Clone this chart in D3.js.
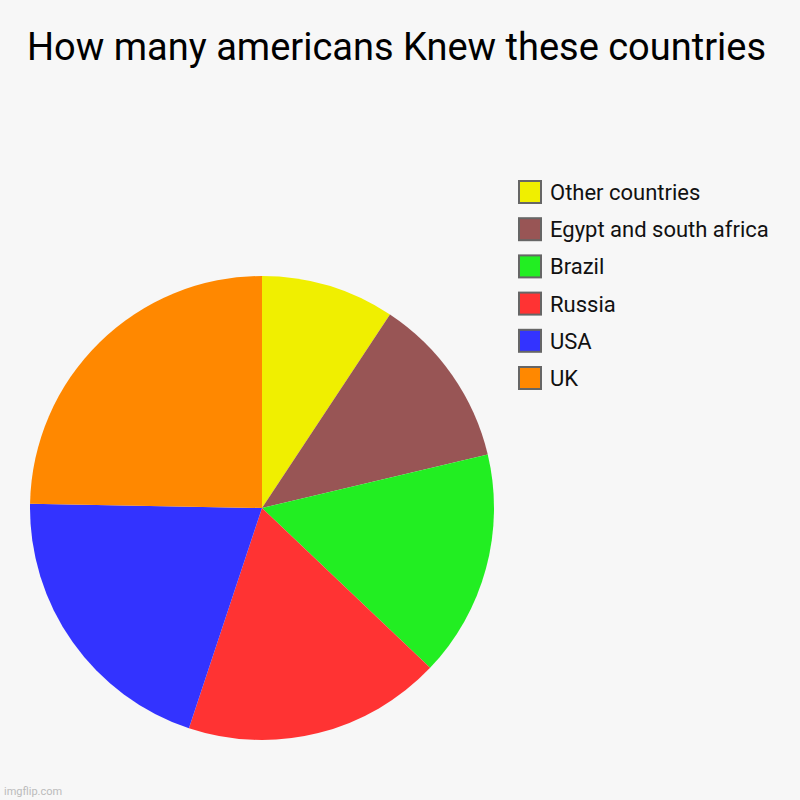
<!DOCTYPE html>
<html>
<head>
<meta charset="utf-8">
<script src="https://cdn.jsdelivr.net/npm/d3@7"></script>
<style>
  html, body { margin: 0; padding: 0; background: #f7f7f7; }
  svg { display: block; }
</style>
</head>
<body>
<div id="chart"></div>
<script>
// 数据
const labels = ["Other countries", "Egypt and south africa", "Brazil", "Russia", "USA", "UK"];
const values = [9.3, 12, 15.8, 18, 20.2, 24.7];
const colors = ["#f0ef00", "#985555", "#22ee22", "#ff3333", "#3333ff", "#ff8800"];

const width = 800,
  height = 800;

const svg = d3
  .select("#chart")
  .append("svg")
  .attr("width", width)
  .attr("height", height)
  .style("font-family", "Roboto, sans-serif");

svg.append("rect").attr("width", width).attr("height", height).attr("fill", "#f7f7f7");

// 标题
svg
  .append("text")
  .attr("x", 27)
  .attr("y", 60)
  .style("font-size", "38px")
  .style("fill", "#000")
  .text("How many americans Knew these countries");

// 饼图
const cx = 262,
  cy = 508,
  radius = 232;

const pie = d3.pie().sort(null).value((d) => d);
const arc = d3.arc().innerRadius(0).outerRadius(radius);

const g = svg.append("g").attr("transform", `translate(${cx},${cy})`);
g.selectAll("path")
  .data(pie(values))
  .enter()
  .append("path")
  .attr("d", arc)
  .attr("fill", (d, i) => colors[i]);

// 图例
const legend = svg.append("g").attr("transform", "translate(519,181)");
const item = legend
  .selectAll("g")
  .data(labels)
  .enter()
  .append("g")
  .attr("transform", (d, i) => `translate(0,${i * 37.2})`);

item
  .append("rect")
  .attr("width", 22)
  .attr("height", 22)
  .attr("fill", (d, i) => colors[i])
  .attr("stroke", "#666")
  .attr("stroke-width", 2);

item
  .append("text")
  .attr("x", 31)
  .attr("y", 19)
  .style("font-size", "22px")
  .style("fill", "#111")
  .text((d) => d);

// 水印
svg
  .append("text")
  .attr("x", 4)
  .attr("y", 795)
  .style("font-size", "11px")
  .style("fill", "#bbb")
  .text("imgflip.com");
</script>
</body>
</html>
